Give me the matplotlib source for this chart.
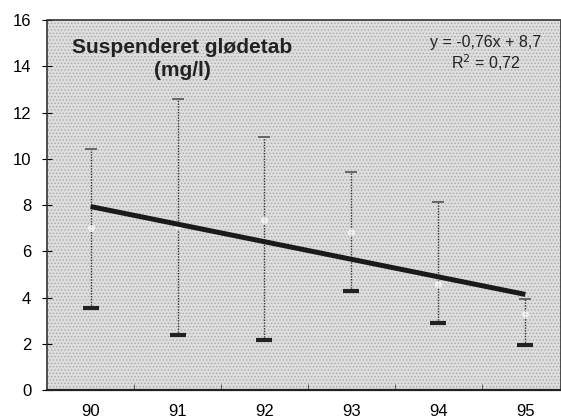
import matplotlib.pyplot as plt

plt.rcParams['font.family'] = ['Liberation Sans', 'DejaVu Sans']
plt.rcParams['hatch.color'] = '#9a9a9a'
plt.rcParams['hatch.linewidth'] = 0.6

years = ["90", "91", "92", "93", "94", "95"]
means = [7.0, 7.1, 7.35, 6.85, 4.6, 3.3]
maxs = [10.45, 12.6, 10.95, 9.45, 8.15, 3.95]
mins = [3.55, 2.4, 2.15, 4.3, 2.9, 1.95]
slope = -0.76
intercept = 8.7

x = list(range(1, len(years) + 1))

fig = plt.figure(figsize=(5.61, 4.2), dpi=100)
ax = fig.add_axes([0.084, 0.071, 0.916, 0.881])

ax.patch.set_facecolor('#dedede')
ax.patch.set_hatch('.....')
ax.patch.set_edgecolor('#a8a8a8')

# error bars: dotted span with caps
ax.vlines(x, mins, maxs, colors='#333333', linestyles=(0, (1, 1)), linewidth=1.0, zorder=2)
ax.plot(x, maxs, linestyle='none', marker='_', markersize=8, markeredgewidth=1.2,
        color='#555555', zorder=3)
ax.plot(x, mins, linestyle='none', marker='_', markersize=11, markeredgewidth=3,
        color='#222222', zorder=3)
ax.plot(x, means, linestyle='none', marker='o', markersize=5, color='white',
        markeredgecolor='none', alpha=0.7, zorder=4)

# trend line
fit = [slope * v + intercept for v in x]
ax.plot([x[0], x[-1]], [fit[0], fit[-1]], color='#1a1a1a', linewidth=3.6,
        solid_capstyle='butt', zorder=5)

ax.set_xlim(0.5, 6.41)
ax.set_ylim(0, 16)
ax.set_yticks(range(0, 17, 2))
ax.set_xticks(x)
ax.set_xticklabels(years)
ax.set_xticks([1.5, 2.5, 3.5, 4.5, 5.5], minor=True)
ax.tick_params(axis='x', which='major', length=0, pad=10, labelsize=12)
ax.tick_params(axis='x', which='minor', length=4, direction='in', color='#444444')
ax.tick_params(axis='y', direction='inout', length=7, width=0.8, pad=8, labelsize=12)

for side in ['left', 'top', 'right']:
    ax.spines[side].set_linestyle((0, (1, 1)))
    ax.spines[side].set_linewidth(1.2)
    ax.spines[side].set_color('#333333')
ax.spines['bottom'].set_linewidth(1.6)
ax.spines['bottom'].set_color('#222222')

fig.text(182 / 561, 1 - 59 / 420, "Suspenderet glødetab\n(mg/l)", fontsize=15,
         fontweight='bold', ha='center', va='center', linespacing=1.3, color='#222222')

fig.text(486 / 561, 1 - 54 / 420, "y = -0,76x + 8,7\nR$^2$ = 0,72", fontsize=11.5,
         ha='center', va='center', linespacing=1.1, color='#222222')

fig.savefig('out.png', dpi=100)
